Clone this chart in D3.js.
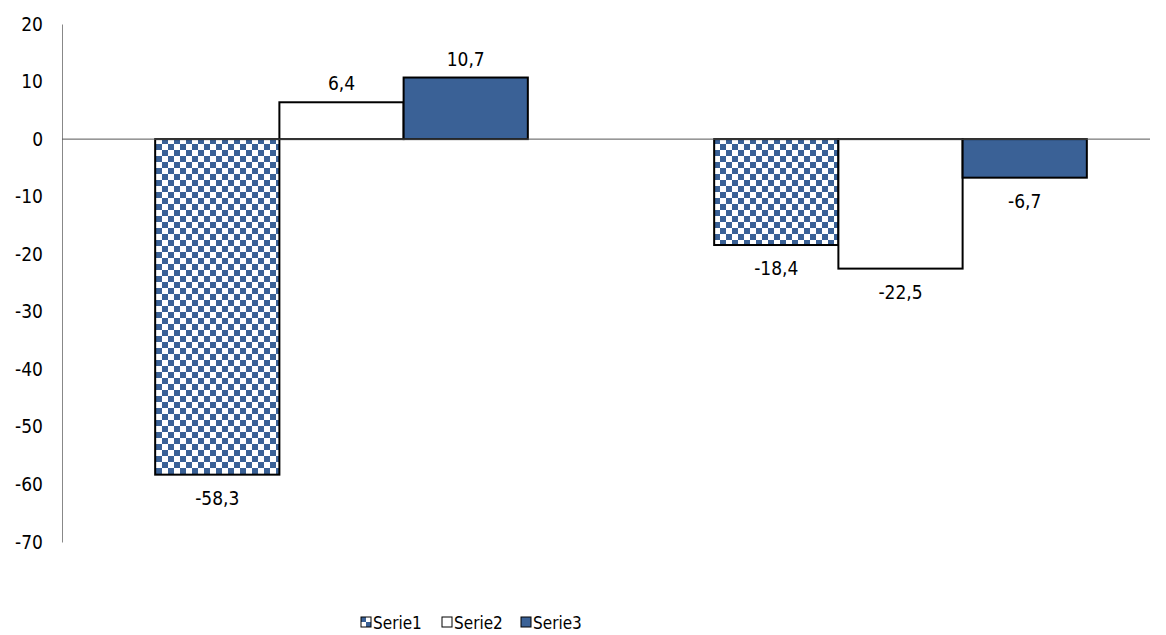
<!DOCTYPE html>
<html><head><meta charset="utf-8">
<script src="https://cdn.jsdelivr.net/npm/d3@7"></script>
<style>body{margin:0;background:#fff}text{font-family:"DejaVu Sans Condensed","DejaVu Sans",sans-serif;font-size:19px;fill:#000}</style>
</head><body><svg id="c" width="1166" height="635"></svg>
<script>
var categories = ["A", "B"];
var seriesNames = ["Serie1", "Serie2", "Serie3"];
var serie1 = [-58.3, -18.4];
var serie2 = [6.4, -22.5];
var serie3 = [10.7, -6.7];
var yTicks = [20, 10, 0, -10, -20, -30, -40, -50, -60, -70];
var values = [serie1, serie2, serie3];
var blue = "#3a6196";

var svg = d3.select("#c");
var defs = svg.append("defs");
var pat = defs.append("pattern").attr("id", "chk").attr("patternUnits", "userSpaceOnUse")
  .attr("width", 12).attr("height", 12);
pat.append("rect").attr("width", 12).attr("height", 12).attr("fill", "#fff");
pat.append("rect").attr("width", 6).attr("height", 6).attr("fill", blue);
pat.append("rect").attr("x", 6).attr("y", 6).attr("width", 6).attr("height", 6).attr("fill", blue);
var fills = ["url(#chk)", "#fff", blue];

var y = d3.scaleLinear().domain([-70, 20]).range([542, 24]);
var x0 = d3.scaleBand().domain(categories).range([62, 1180]);
var x1 = d3.scaleBand().domain(seriesNames).range([0, x0.bandwidth()]).paddingOuter(0.75);

var ax = svg.append("g").attr("transform", "translate(62,0)")
  .call(d3.axisLeft(y).tickValues(yTicks).tickSize(0).tickPadding(19)
    .tickFormat(function(d) { return String(d); }));
ax.select(".domain").attr("stroke", "#888");
ax.selectAll("text").style("font-size", "19px").attr("fill", "#000");

seriesNames.forEach(function(s, i) {
  categories.forEach(function(c, j) {
    var v = values[i][j];
    var bx = x0(c) + x1(s);
    svg.append("rect").attr("x", bx).attr("width", x1.bandwidth())
      .attr("y", y(Math.max(0, v))).attr("height", Math.abs(y(v) - y(0)))
      .attr("fill", fills[i]).attr("stroke", "#000").attr("stroke-width", 2);
  });
});
svg.append("line").attr("x1", 62).attr("x2", 1150).attr("y1", y(0)).attr("y2", y(0)).attr("stroke", "#555");
seriesNames.forEach(function(s, i) {
  categories.forEach(function(c, j) {
    var v = values[i][j];
    svg.append("text").attr("x", x0(c) + x1(s) + x1.bandwidth() / 2)
      .attr("y", v >= 0 ? y(v) - 12 : y(v) + 30).attr("text-anchor", "middle")
      .text(String(v).replace(".", ","));
  });
});

var lx = [360, 441, 520];
var lp = defs.append("pattern").attr("id", "chkS").attr("patternUnits", "userSpaceOnUse")
  .attr("x", 361).attr("y", 617).attr("width", 10).attr("height", 10);
lp.append("rect").attr("width", 10).attr("height", 10).attr("fill", "#fff");
lp.append("rect").attr("width", 5).attr("height", 5).attr("fill", blue);
lp.append("rect").attr("x", 5).attr("y", 5).attr("width", 5).attr("height", 5).attr("fill", blue);
var lfills = ["url(#chkS)", "#fff", blue];
seriesNames.forEach(function(s, i) {
  svg.append("rect").attr("x", lx[i] + 1).attr("y", 617).attr("width", 10).attr("height", 10)
    .attr("fill", lfills[i]).attr("stroke", "#000");
  svg.append("text").attr("x", lx[i] + 13).attr("y", 629).style("font-size", "17px").text(s);
});
</script></body></html>
